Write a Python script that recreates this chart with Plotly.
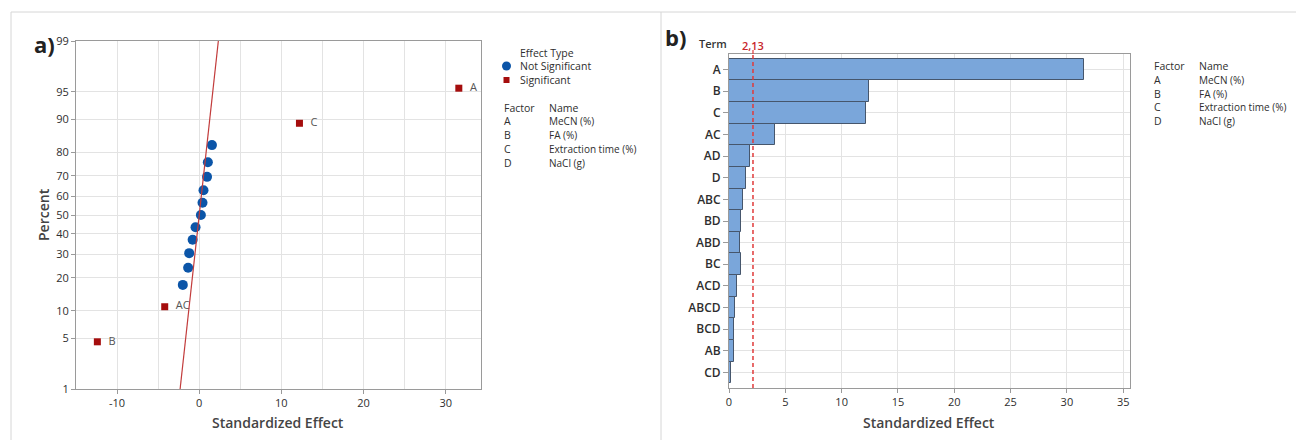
import plotly.graph_objects as go
from statistics import NormalDist

# ---------------- data ----------------
# Normal probability plot (panel a)
ns_effects = [-2.0, -1.35, -1.22, -0.8, -0.45, 0.2, 0.4, 0.52, 0.95, 1.05, 1.55]
ns_percent = [17.5, 24.0, 30.5, 37.0, 43.5, 50.0, 56.5, 63.0, 69.5, 76.0, 82.5]
sig_terms = ["B", "AC", "C", "A"]
sig_effects = [-12.4, -4.2, 12.2, 31.6]
sig_percent = [4.5, 11.0, 89.0, 95.5]
fit_mean = 0.0
fit_sigma = 1.0
fit_percent = [1, 99]
pct_ticks = [1, 5, 10, 20, 30, 40, 50, 60, 70, 80, 90, 95, 99]
effect_ticks = [-10, 0, 10, 20, 30]

# Pareto chart (panel b)
terms = ["A", "B", "C", "AC", "AD", "D", "ABC", "BD", "ABD", "BC", "ACD", "ABCD", "BCD", "AB", "CD"]
abs_effects = [31.5, 12.4, 12.2, 4.1, 1.9, 1.5, 1.2, 1.1, 1.0, 1.05, 0.7, 0.5, 0.4, 0.4, 0.15]
ref_value = 2.13
ref_label = "2,13"

factors = ["A", "B", "C", "D"]
factor_names = ["MeCN (%)", "FA (%)", "Extraction time (%)", "NaCl (g)"]

# ---------------- helpers ----------------
W, H = 1296, 440
def px(x):
    return x / W
def py(y):
    return 1 - y / H
nd = NormalDist()
def z(p):
    return nd.inv_cdf(p / 100.0)

FONT = "Open Sans"
TXT = "#2e2e2e"
GRID = "#e3e3e3"
AX = "#9a9a9a"
BLUE = "#0b55a8"
RED = "#a50d0d"

fig = go.Figure()

# panel a traces
fig.add_trace(go.Scatter(
    x=ns_effects, y=[z(p) for p in ns_percent], mode="markers",
    marker=dict(symbol="circle", size=10, color=BLUE),
    xaxis="x", yaxis="y", showlegend=False, hoverinfo="skip"))
fig.add_trace(go.Scatter(
    x=sig_effects, y=[z(p) for p in sig_percent], mode="markers+text",
    text=["  " + t for t in sig_terms], textposition="middle right",
    textfont=dict(family=FONT, size=11, color="#555555"),
    marker=dict(symbol="square", size=7, color=RED),
    xaxis="x", yaxis="y", showlegend=False, hoverinfo="skip"))
fit_dist = NormalDist(fit_mean, fit_sigma)
fig.add_trace(go.Scatter(
    x=[fit_dist.inv_cdf(p / 100.0) for p in fit_percent], y=[z(p) for p in fit_percent],
    mode="lines", line=dict(color="#c23b3b", width=1.2),
    xaxis="x", yaxis="y", showlegend=False, hoverinfo="skip"))

# panel b bars
fig.add_trace(go.Bar(
    x=abs_effects, y=terms, orientation="h",
    marker=dict(color="#7aa6da", line=dict(color="#46566c", width=1)),
    xaxis="x2", yaxis="y2", showlegend=False, hoverinfo="skip"))

axis_common = dict(showline=True, linecolor=AX, linewidth=1, mirror=True,
                   ticks="outside", ticklen=4, tickcolor=AX, zeroline=False,
                   automargin=False, showgrid=True,
                   gridcolor=GRID, tickfont=dict(family=FONT, size=11, color=TXT))

fig.update_layout(
    template="none",
    width=W, height=H, autosize=False,
    margin=dict(l=0, r=0, t=0, b=0, pad=0),
    paper_bgcolor="white", plot_bgcolor="white",
    bargap=0,
    xaxis=dict(domain=[px(76), px(481)], range=[-15, 34.3],
               tickvals=effect_ticks, ticktext=[str(v) for v in effect_ticks],
               minor=dict(dtick=5, tick0=0, showgrid=True, gridcolor=GRID, ticks=""),
               anchor="y", **axis_common),
    yaxis=dict(domain=[py(389), py(41)], range=[z(1), z(99)],
               tickvals=[z(p) for p in pct_ticks], ticktext=[str(p) for p in pct_ticks],
               anchor="x", **axis_common),
    xaxis2=dict(domain=[px(729), px(1130)], range=[0, 35.6], dtick=5, tick0=0,
                anchor="y2", **axis_common),
    yaxis2=dict(domain=[py(388), py(54)], range=[14.72, -0.72],
                type="category", categoryorder="array", categoryarray=terms,
                anchor="x2", showline=True, linecolor=AX, linewidth=1, mirror=True,
                automargin=False, showgrid=True,
                ticks="outside", ticklen=5, tickcolor=AX, gridcolor=GRID,
                tickfont=dict(family=FONT, size=12, color=TXT, weight=600)),
)

shapes = []
# panel frames
for (x0, y0, x1, y1) in [(11, 12, 1296, 12), (11, 12, 11, 440), (661, 12, 661, 440)]:
    shapes.append(dict(type="line", xref="paper", yref="paper",
                       x0=px(x0), y0=py(y0), x1=px(x1), y1=py(y1),
                       line=dict(color="#d6d6d6", width=1)))
# reference line
shapes.append(dict(type="line", xref="x2", yref="paper", x0=ref_value, x1=ref_value,
                   y0=py(388), y1=py(54), line=dict(color="#e03a3a", width=1.5, dash="4px,3px")))
shapes.append(dict(type="line", xref="x2", yref="paper", x0=ref_value, x1=ref_value,
                   y0=py(54), y1=py(50), line=dict(color="#e03a3a", width=1.2)))
# legend symbols (panel a)
shapes.append(dict(type="circle", xref="paper", yref="paper",
                   x0=px(502), x1=px(511), y0=py(70.5), y1=py(61.5),
                   fillcolor=BLUE, line=dict(width=0)))
shapes.append(dict(type="rect", xref="paper", yref="paper",
                   x0=px(503.5), x1=px(509.5), y0=py(83), y1=py(77),
                   fillcolor=RED, line=dict(width=0)))
fig.update_layout(shapes=shapes)

ann = []
def A(x, y, text, size=10, color=TXT, anchor="left", weight=400, yanchor="middle"):
    ann.append(dict(xref="paper", yref="paper", x=px(x), y=py(y), text=text,
                    showarrow=False, xanchor=anchor, yanchor=yanchor,
                    font=dict(family=FONT, size=size, color=color, weight=weight)))

# panel labels & titles
A(32, 44, "a)", size=22, color="#222222", weight=700)
A(663, 37, "b)", size=22, color="#222222", weight=700)
A(697, 44, "Term", size=11, color="#333333", weight=600)
A(278, 422, "Standardized Effect", size=14, color="#444444", anchor="center", weight=600)
A(929, 422, "Standardized Effect", size=14, color="#444444", anchor="center", weight=600)
ann.append(dict(xref="paper", yref="paper", x=px(43), y=py(215), text="Percent",
                showarrow=False, textangle=-90, xanchor="center", yanchor="middle",
                font=dict(family=FONT, size=14, color="#444444", weight=600)))
ann.append(dict(xref="x2", yref="paper", x=ref_value, y=py(46), text=ref_label,
                showarrow=False, xanchor="center", yanchor="middle",
                font=dict(family=FONT, size=11, color="#c8262b", weight=600)))

# panel a legend
A(518, 53, "Effect Type", size=10.5)
A(518, 66, "Not Significant", size=10.5)
A(518, 80, "Significant", size=10.5)
A(502, 108, "Factor", size=10.5)
A(547, 108, "Name", size=10.5)
for i, (f, n) in enumerate(zip(factors, factor_names)):
    A(502, 121 + i * 14, f, size=10.5)
    A(547, 121 + i * 14, n, size=10)

# panel b legend
A(1152, 66, "Factor", size=10.5)
A(1197, 66, "Name", size=10.5)
for i, (f, n) in enumerate(zip(factors, factor_names)):
    A(1152, 80 + i * 13.7, f, size=10.5)
    A(1197, 80 + i * 13.7, n, size=10)

fig.update_layout(annotations=ann)
fig.write_html("out.html", config={"displayModeBar": False},
               post_script="document.body.style.margin='0';document.body.style.overflow='hidden';")
